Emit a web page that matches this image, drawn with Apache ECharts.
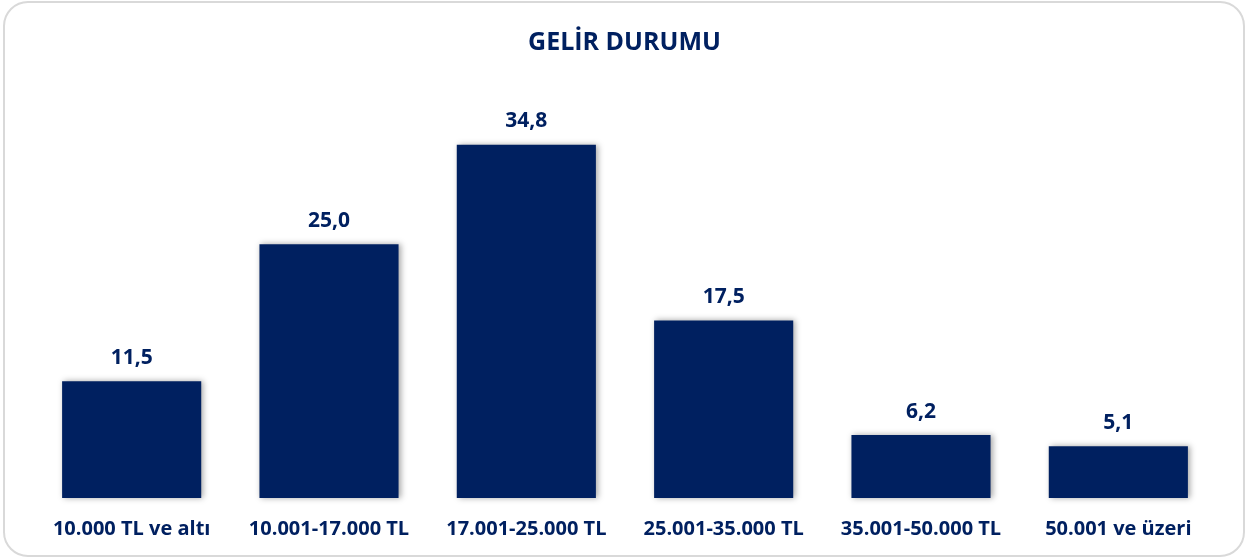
<!DOCTYPE html>
<html>
<head>
<meta charset="utf-8">
<script src="https://cdn.jsdelivr.net/npm/echarts@6/dist/echarts.min.js"></script>
<style>
  html, body { margin: 0; padding: 0; background: #fff; }
  #chart { width: 1249px; height: 560px; }
</style>
</head>
<body>
<div id="chart"></div>
<script>
var categories = ["10.000 TL ve altı", "10.001-17.000 TL", "17.001-25.000 TL", "25.001-35.000 TL", "35.001-50.000 TL", "50.001 ve üzeri"];
var values = [11.5, 25.0, 34.8, 17.5, 6.2, 5.1];

var navy = "#002060";
var fontName = "'Open Sans', sans-serif";

var chart = echarts.init(document.getElementById("chart"));
chart.setOption({
  animation: false,
  title: {
    text: "GELİR DURUMU",
    left: "center",
    top: 25,
    textStyle: { color: navy, fontSize: 25, fontWeight: "bold", fontFamily: fontName }
  },
  graphic: [{
    type: "rect",
    shape: { x: 4, y: 2, width: 1240, height: 554, r: 24 },
    style: { fill: "none", stroke: "#d9d9d9", lineWidth: 2 },
    silent: true
  }],
  grid: { left: 33, right: 32, top: 92, bottom: 62 },
  xAxis: {
    type: "category",
    data: categories,
    axisLine: { show: false },
    axisTick: { show: false },
    axisLabel: { color: navy, fontSize: 20, fontWeight: "bold", fontFamily: fontName, margin: 21, interval: 0 }
  },
  yAxis: {
    type: "value",
    min: 0,
    max: 40,
    show: false,
    splitLine: { show: false }
  },
  series: [{
    type: "bar",
    data: values,
    barCategoryGap: "29.5%",
    itemStyle: {
      color: navy,
      shadowColor: "rgba(0,0,0,0.35)",
      shadowBlur: 6,
      shadowOffsetX: 2,
      shadowOffsetY: 0
    },
    label: {
      show: true,
      position: "top",
      distance: 13,
      color: navy,
      fontSize: 21,
      fontWeight: "bold",
      fontFamily: fontName,
      formatter: function (p) { return p.value.toFixed(1).replace(".", ","); }
    }
  }]
});
</script>
</body>
</html>
